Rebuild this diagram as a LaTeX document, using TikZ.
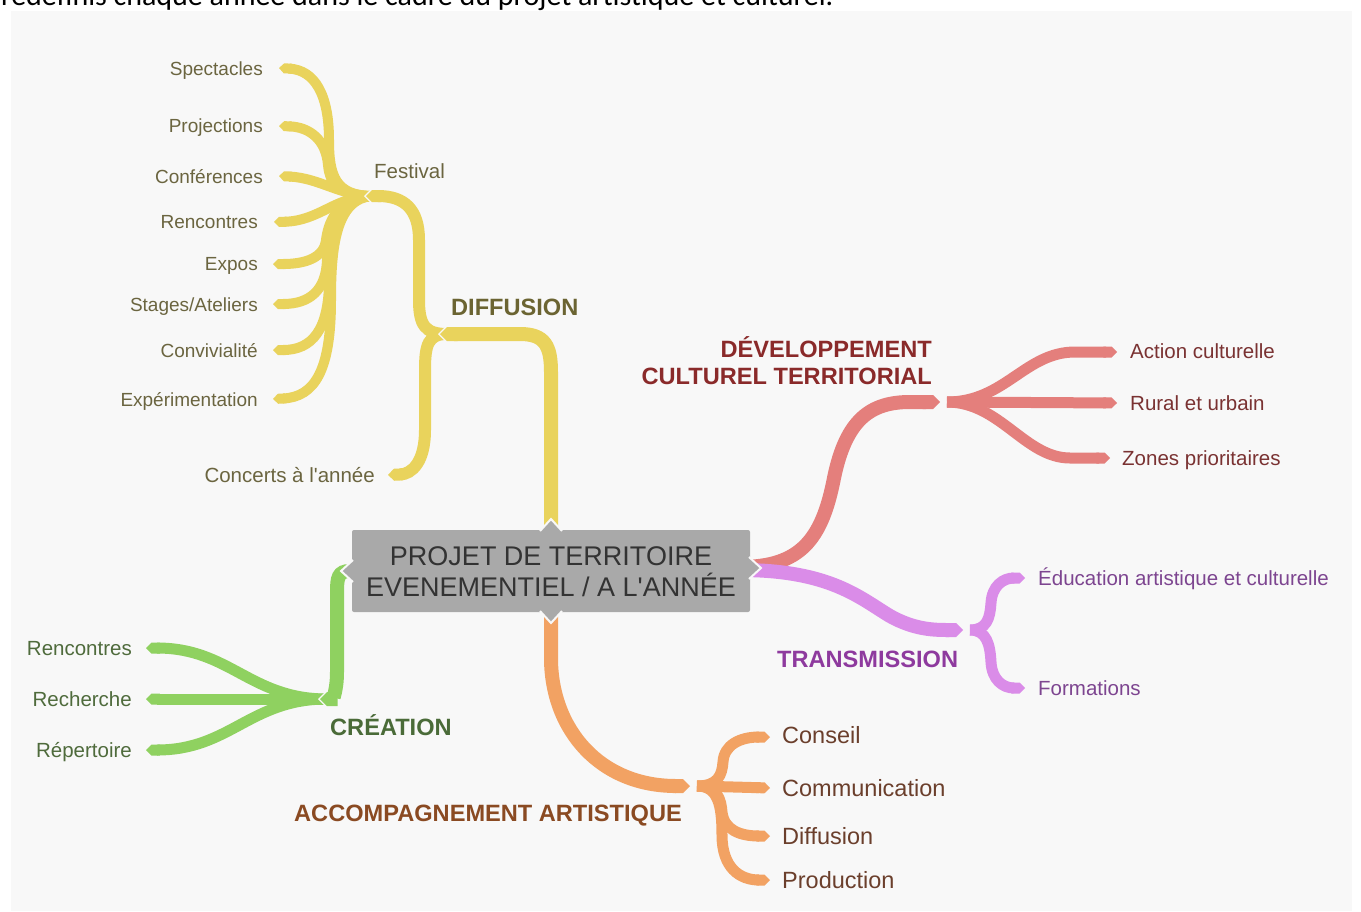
\documentclass[tikz,border=0pt]{standalone}
\usepackage{fontspec}
\setmainfont{Liberation Sans}
\newfontfamily\topfont{Carlito}
\usetikzlibrary{arrows.meta}
\definecolor{bgc}{HTML}{F8F8F8}
\definecolor{yel}{HTML}{E9D35C}
\definecolor{yelt}{HTML}{6B6540}
\definecolor{yelh}{HTML}{6B6432}
\definecolor{redb}{HTML}{E47F7C}
\definecolor{redt}{HTML}{7A3232}
\definecolor{redh}{HTML}{8A2A2A}
\definecolor{pur}{HTML}{DA8CE8}
\definecolor{purt}{HTML}{7D4590}
\definecolor{purh}{HTML}{8E3A9E}
\definecolor{grn}{HTML}{8FD160}
\definecolor{grnt}{HTML}{4F6B3C}
\definecolor{grnh}{HTML}{4A6B38}
\definecolor{org}{HTML}{F2A263}
\definecolor{orgt}{HTML}{6B3F2C}
\definecolor{orgh}{HTML}{8A4A22}
\definecolor{boxc}{HTML}{A9A9A9}
\definecolor{boxt}{HTML}{333333}
\begin{document}
\begin{tikzpicture}[x=1pt,y=-1pt,
  trunk/.style={line width=14pt,-{Triangle Cap[]}},
  midtrunk/.style={line width=12pt,-{Triangle Cap[]}},
  gap/.style={line width=#1,draw=bgc,-{Triangle Cap[]},shorten >=-2pt},
  twig/.style={line width=11pt,-{Triangle Cap[]}},
  ftwig/.style={line width=10pt,-{Triangle Cap[]}},
  lab/.style={inner sep=0pt,font=\fontsize{19}{22}\selectfont},
  labm/.style={inner sep=0pt,font=\fontsize{20.5}{24}\selectfont},
  labl/.style={inner sep=0pt,font=\fontsize{23.5}{27}\selectfont},
  head/.style={inner sep=0pt,font=\fontsize{23.6}{27}\selectfont\bfseries}
]
\useasboundingbox (0,0) rectangle (1361,911);
\fill[white] (0,0) rectangle (1361,911);
\fill[bgc] (11,11) rectangle (1352,911);
\begin{scope}
\clip (0,0) rectangle (1361,911);
\node[inner sep=0pt,anchor=base west,font=\topfont\fontsize{30}{34}\selectfont] (toptext) at (1,5) {redéfinis chaque année dans le cadre du projet artistique et culturel.};
\end{scope}

% ---------- coordinates ----------
\coordinate (cY) at (551,540);
\coordinate (jY) at (440,334);
\coordinate (sY) at (447,334);
\coordinate (jF) at (366,196);
\coordinate (sF) at (373,196);
\coordinate (tConc) at (388,475);
\coordinate (cR) at (740,567);
\coordinate (jR) at (940,402);
\coordinate (sR) at (947,402);
\coordinate (cP) at (740,570);
\coordinate (jP) at (963,630);
\coordinate (sP) at (970,630);
\coordinate (cG) at (360,571);
\coordinate (jG) at (320,699);
\coordinate (sG) at (327,699);
\coordinate (cO) at (551,600);
\coordinate (jO) at (690,786);
\coordinate (sO) at (697,786);

% ---------- YELLOW : DIFFUSION ----------
\draw[ftwig,yel] (sF) .. controls (335,196) and (329,175) .. (329,140) .. controls (329,95) and (315,70) .. (279,68);
\draw[ftwig,yel] (sF) .. controls (340,196) and (330,185) .. (328,165) .. controls (326,140) and (310,127) .. (279,126);
\draw[ftwig,yel] (sF) .. controls (340,196) and (320,178) .. (279,176);
\draw[ftwig,yel] (sF) .. controls (335,196) and (320,221) .. (274,222);
\draw[ftwig,yel] (sF) .. controls (335,198) and (328,225) .. (326,240) .. controls (324,258) and (305,264) .. (273,264);
\draw[ftwig,yel] (sF) .. controls (335,198) and (328,230) .. (327,260) .. controls (326,290) and (310,304) .. (273,304);
\draw[ftwig,yel] (sF) .. controls (335,198) and (329,240) .. (329,280) .. controls (329,330) and (312,350) .. (273,350);
\draw[ftwig,yel] (sF) .. controls (335,198) and (331,250) .. (331,300) .. controls (331,370) and (315,397) .. (273,399);
\draw[gap=16pt] (385,196) -- (jF);
\draw[midtrunk,yel] (sY) .. controls (425,334) and (419,325) .. (419,300) -- (419,240) .. controls (419,210) and (405,196) .. (jF);
\draw[midtrunk,yel] (sY) .. controls (428,334) and (425,345) .. (425,370) -- (425,430) .. controls (425,462) and (412,474) .. (tConc);
\draw[gap=18pt] (465,334) -- (jY);
\draw[trunk,yel] (cY) -- (551,372) .. controls (551,346) and (545,334) .. (520,334) -- (jY);

% ---------- RED : DEVELOPPEMENT ----------
\draw[twig,redb] (sR) .. controls (1005,402) and (1025,352) .. (1075,352) -- (1117,352);
\draw[twig,redb] (sR) -- (1117,403);
\draw[twig,redb] (sR) .. controls (1000,402) and (1025,458) .. (1070,458) -- (1110,458);
\draw[gap=18pt] (915,402) -- (jR);
\draw[trunk,redb] (cR) .. controls (800,567) and (822,540) .. (834,478) .. controls (846,420) and (870,402) .. (910,402) -- (jR);

% ---------- PURPLE : TRANSMISSION ----------
\draw[twig,pur] (sP) .. controls (987,630) and (990,618) .. (991,603) .. controls (992,586) and (1003,578) .. (1025,578);
\draw[twig,pur] (sP) .. controls (987,630) and (990,645) .. (991,662) .. controls (992,680) and (1003,688) .. (1025,688);
\draw[gap=18pt] (940,630) -- (jP);
\draw[trunk,pur] (cP) .. controls (830,570) and (860,598) .. (890,616) .. controls (915,630) and (935,630) .. (jP);

% ---------- GREEN : CREATION ----------
\draw[twig,grn] (sG) .. controls (250,699) and (230,648) .. (146,648);
\draw[twig,grn] (sG) -- (146,699);
\draw[twig,grn] (sG) .. controls (250,699) and (230,750) .. (146,750);
\draw[gap=18pt] (335,699) -- (jG);
\draw[trunk,grn] (cG) -- (350,571) .. controls (338,571) and (337,578) .. (337,592) -- (337,672) .. controls (337,692) and (332,699) .. (jG);

% ---------- ORANGE : ACCOMPAGNEMENT ----------
\draw[twig,org] (sO) .. controls (718,786) and (722,775) .. (723,762) .. controls (724,745) and (740,737) .. (770,737);
\draw[twig,org] (sO) -- (770,788);
\draw[twig,org] (sO) .. controls (718,786) and (721,800) .. (722,812) .. controls (724,830) and (740,836) .. (770,836);
\draw[twig,org] (sO) .. controls (718,786) and (722,805) .. (722,835) .. controls (722,868) and (740,880) .. (770,880);
\draw[gap=18pt] (665,786) -- (jO);
\draw[trunk,org] (cO) -- (551,660) .. controls (552,730) and (600,786) .. (jO);

% ---------- CENTRAL BOX ----------
\fill[boxc,rounded corners=2pt] (352,530) rectangle (750,612);
\draw[draw=bgc,line width=2pt,fill=boxc] (540,531) -- (551,519) -- (562,531);
\draw[draw=bgc,line width=2pt,fill=boxc] (540,611) -- (551,623) -- (562,611);
\draw[draw=bgc,line width=2pt,fill=boxc] (353,560) -- (341,571) -- (353,582);
\draw[draw=bgc,line width=2pt,fill=boxc] (749,557) -- (761,568) -- (749,579);
\fill[boxc] (536,532) rectangle (566,540);
\fill[boxc] (536,602) rectangle (566,610);
\fill[boxc] (354,556) rectangle (362,586);
\fill[boxc] (740,553) rectangle (748,583);
\node[inner sep=0pt,align=center,text=boxt,font=\fontsize{27}{31}\selectfont] (center) at (551,571.5) {PROJET DE TERRITOIRE\\EVENEMENTIEL / A L\textquotesingle ANNÉE};

% ---------- LABELS : yellow ----------
\node[lab,text=yelt,anchor=base east] (spect) at (263,75) {Spectacles};
\node[lab,text=yelt,anchor=base east] (proj) at (263,132) {Projections};
\node[lab,text=yelt,anchor=base east] (conf) at (263,183) {Conférences};
\node[lab,text=yelt,anchor=base east] (renc1) at (258,228) {Rencontres};
\node[lab,text=yelt,anchor=base east] (expos) at (258,270) {Expos};
\node[lab,text=yelt,anchor=base east] (stages) at (258,311) {Stages/Ateliers};
\node[lab,text=yelt,anchor=base east] (conv) at (258,357) {Convivialité};
\node[lab,text=yelt,anchor=base east] (exper) at (258,406) {Expérimentation};
\node[labm,text=yelt,anchor=base west] (festival) at (374,178) {Festival};
\node[labm,text=yelt,anchor=base east] (concerts) at (375,482) {Concerts à l\textquotesingle année};
\node[head,text=yelh,anchor=base west] (diffusionH) at (451,315) {DIFFUSION};

% ---------- LABELS : red ----------
\node[head,text=redh,anchor=base east] (dev1) at (932,357) {DÉVELOPPEMENT};
\node[head,text=redh,anchor=base east] (dev2) at (932,384) {CULTUREL TERRITORIAL};
\node[labm,text=redt,anchor=base west] (action) at (1130,358) {Action culturelle};
\node[labm,text=redt,anchor=base west] (rural) at (1130,410) {Rural et urbain};
\node[labm,text=redt,anchor=base west] (zones) at (1122,465) {Zones prioritaires};

% ---------- LABELS : purple ----------
\node[head,text=purh,anchor=base west] (transH) at (777,667) {TRANSMISSION};
\node[labm,text=purt,anchor=base west] (educ) at (1038,585) {Éducation artistique et culturelle};
\node[labm,text=purt,anchor=base west] (form) at (1038,695) {Formations};

% ---------- LABELS : green ----------
\node[head,text=grnh,anchor=base west] (creaH) at (330,735) {CRÉATION};
\node[labm,text=grnt,anchor=base east] (renc2) at (132,655) {Rencontres};
\node[labm,text=grnt,anchor=base east] (rech) at (132,706) {Recherche};
\node[labm,text=grnt,anchor=base east] (rep) at (132,757) {Répertoire};

% ---------- LABELS : orange ----------
\node[head,text=orgh,anchor=base west] (accH) at (294,821) {ACCOMPAGNEMENT ARTISTIQUE};
\node[labl,text=orgt,anchor=base west] (conseil) at (782,743) {Conseil};
\node[labl,text=orgt,anchor=base west] (comm) at (782,796) {Communication};
\node[labl,text=orgt,anchor=base west] (diff2) at (782,844) {Diffusion};
\node[labl,text=orgt,anchor=base west] (prod) at (782,888) {Production};
\end{tikzpicture}
\end{document}
